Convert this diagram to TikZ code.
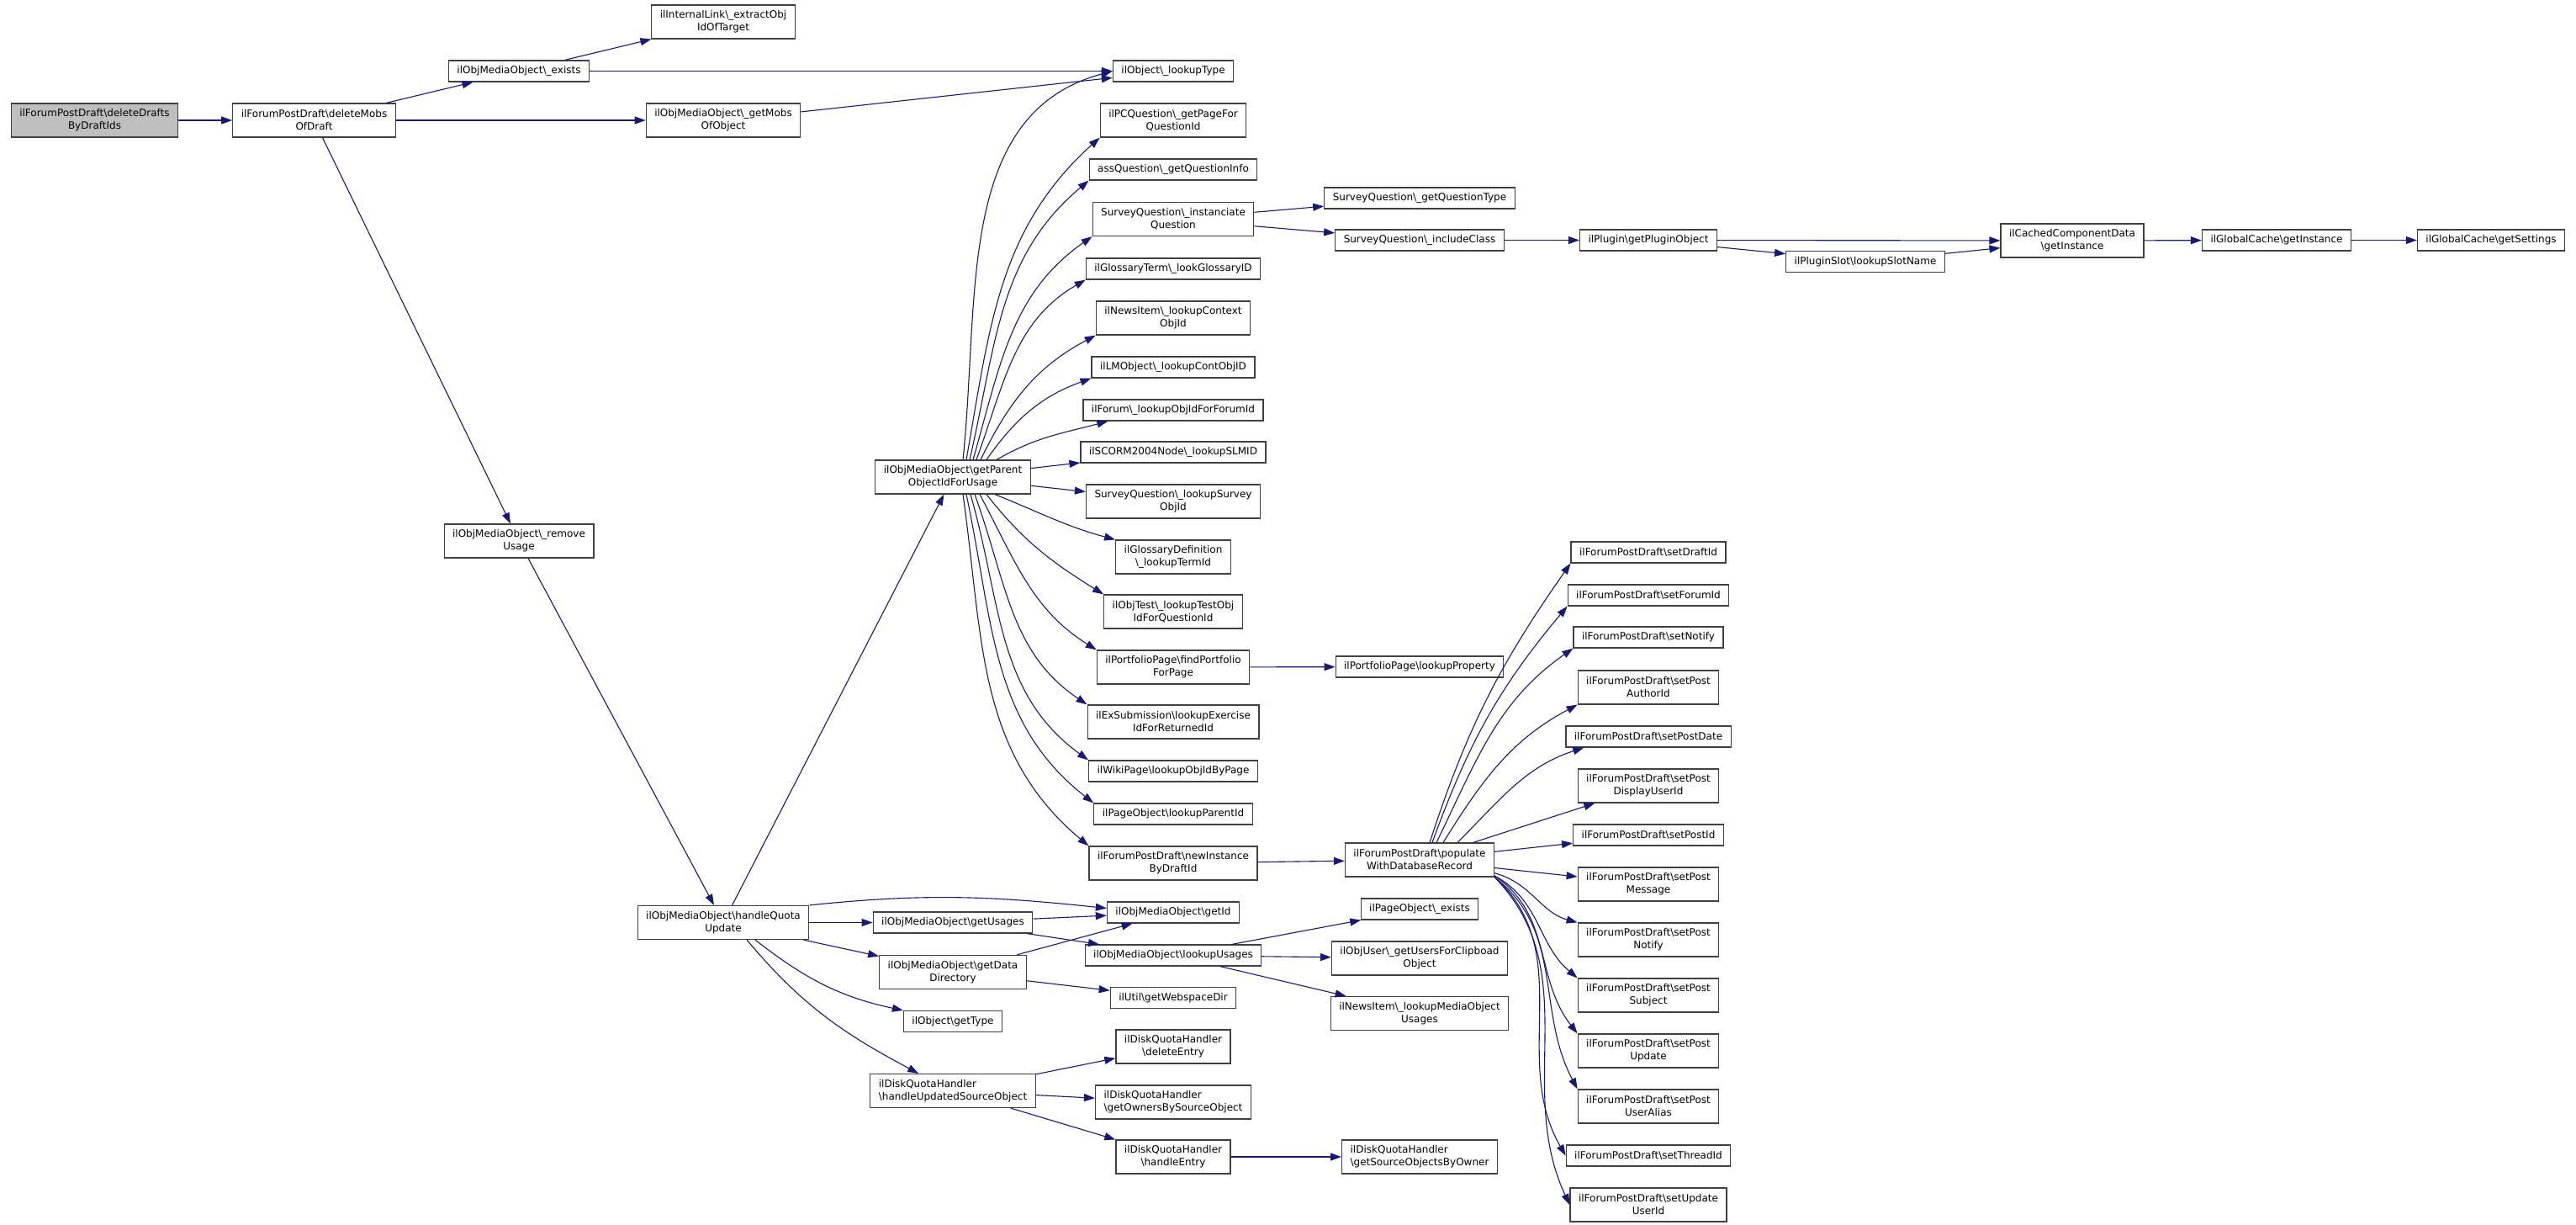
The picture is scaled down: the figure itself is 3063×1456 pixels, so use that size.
\documentclass[tikz,border=0pt]{standalone}
\usepackage{fontspec}
\setmainfont{DejaVu Sans}
\usetikzlibrary{arrows.meta,calc}
\newcommand{\BK}{\textbackslash}
\definecolor{edgec}{HTML}{191970}
\definecolor{boxc}{HTML}{404040}
\definecolor{rootc}{HTML}{BFBFBF}
\tikzset{
 fn/.style={draw=boxc, line width=1.2pt, fill=white, inner xsep=10pt, inner ysep=2pt,
   minimum height=25pt, font=\fontsize{12}{15}\selectfont, align=center},
 fn2/.style={fn, minimum height=40pt},
 fnl/.style={fn2, align=left},
 arr/.style={draw=edgec, line width=1.1pt, -{Triangle[length=13pt,width=9pt]}}
}
\begin{document}
\begin{tikzpicture}[x=1pt,y=1pt]
\useasboundingbox (0,0) rectangle (3063,-1456);
\fill[white] (0,0) rectangle (3063,-1456);
% rank 0-3
\node[fn2, fill=rootc] (root) at (112.5,-143) {ilForumPostDraft\BK deleteDrafts\\ByDraftIds};
\node[fn2] (dm) at (373.5,-143) {ilForumPostDraft\BK deleteMobs\\OfDraft};
\node[fn] (ex0) at (617,-84.5) {ilObjMediaObject\BK\_exists};
\node[fn2] (ru) at (617,-643) {ilObjMediaObject\BK\_remove\\Usage};
\node[fn2] (ilk) at (860,-26) {ilInternalLink\BK\_extractObj\\IdOfTarget};
\node[fn2] (gm) at (860,-143) {ilObjMediaObject\BK\_getMobs\\OfObject};
\node[fn2] (hq) at (860,-1096.5) {ilObjMediaObject\BK handleQuota\\Update};
% rank 4
\node[fn2] (gp) at (1133,-567) {ilObjMediaObject\BK getParent\\ObjectIdForUsage};
\node[fn] (gu) at (1133,-1096.5) {ilObjMediaObject\BK getUsages};
\node[fn2] (gdd) at (1133,-1155.5) {ilObjMediaObject\BK getData\\Directory};
\node[fn] (gty) at (1133,-1214) {ilObject\BK getType};
\node[fnl] (hu) at (1133,-1296.5) {ilDiskQuotaHandler\\\BK handleUpdatedSourceObject};
% rank 5
\node[fn] (lt) at (1395,-84.5) {ilObject\BK\_lookupType};
\node[fn2] (pcq) at (1395,-143) {ilPCQuestion\BK\_getPageFor\\QuestionId};
\node[fn] (aq) at (1395,-201.5) {assQuestion\BK\_getQuestionInfo};
\node[fn2] (inst) at (1395,-260.5) {SurveyQuestion\BK\_instanciate\\Question};
\node[fn] (gt) at (1395,-319.5) {ilGlossaryTerm\BK\_lookGlossaryID};
\node[fn2] (nc) at (1395,-378) {ilNewsItem\BK\_lookupContext\\ObjId};
\node[fn] (lm) at (1395,-436.5) {ilLMObject\BK\_lookupContObjID};
\node[fn] (fo) at (1395,-487.5) {ilForum\BK\_lookupObjIdForForumId};
\node[fn] (sc) at (1395,-537.5) {ilSCORM2004Node\BK\_lookupSLMID};
\node[fn2] (sv) at (1395,-596) {SurveyQuestion\BK\_lookupSurvey\\ObjId};
\node[fn2] (gd) at (1395,-662) {ilGlossaryDefinition\\\BK\_lookupTermId};
\node[fn2] (ot) at (1395,-727) {ilObjTest\BK\_lookupTestObj\\IdForQuestionId};
\node[fn2] (pf) at (1395,-793) {ilPortfolioPage\BK findPortfolio\\ForPage};
\node[fn2] (es) at (1395,-858) {ilExSubmission\BK lookupExercise\\IdForReturnedId};
\node[fn] (wk) at (1395,-916.5) {ilWikiPage\BK lookupObjIdByPage};
\node[fn] (pp) at (1395,-967.5) {ilPageObject\BK lookupParentId};
\node[fn2] (ni) at (1395,-1026) {ilForumPostDraft\BK newInstance\\ByDraftId};
\node[fn] (gi) at (1395,-1084.5) {ilObjMediaObject\BK getId};
\node[fn] (lu) at (1395,-1135.5) {ilObjMediaObject\BK lookupUsages};
\node[fn] (ws) at (1395,-1186) {ilUtil\BK getWebspaceDir};
\node[fn2] (de) at (1395,-1244) {ilDiskQuotaHandler\\\BK deleteEntry};
\node[fnl] (go) at (1395,-1310) {ilDiskQuotaHandler\\\BK getOwnersBySourceObject};
\node[fn2] (he) at (1395,-1375) {ilDiskQuotaHandler\\\BK handleEntry};
% rank 6
\node[fn] (gqt) at (1688,-235.5) {SurveyQuestion\BK\_getQuestionType};
\node[fn] (ic) at (1688,-285.5) {SurveyQuestion\BK\_includeClass};
\node[fn] (lp) at (1688,-792.5) {ilPortfolioPage\BK lookupProperty};
\node[fn2] (pop) at (1688,-1022) {ilForumPostDraft\BK populate\\WithDatabaseRecord};
\node[fn] (pe) at (1688,-1080.5) {ilPageObject\BK\_exists};
\node[fn2] (uc) at (1688,-1139) {ilObjUser\BK\_getUsersForClipboad\\Object};
\node[fn2] (nm) at (1688,-1204.5) {ilNewsItem\BK\_lookupMediaObject\\Usages};
\node[fnl] (gso) at (1688,-1375) {ilDiskQuotaHandler\\\BK getSourceObjectsByOwner};
% rank 7
\node[fn] (gpo) at (1960,-285.5) {ilPlugin\BK getPluginObject};
\node[fn] (s1) at (1960,-656.5) {ilForumPostDraft\BK setDraftId};
\node[fn] (s2) at (1960,-707.5) {ilForumPostDraft\BK setForumId};
\node[fn] (s3) at (1960,-757.5) {ilForumPostDraft\BK setNotify};
\node[fn2] (s4) at (1960,-817) {ilForumPostDraft\BK setPost\\AuthorId};
\node[fn] (s5) at (1960,-875.5) {ilForumPostDraft\BK setPostDate};
\node[fn2] (s6) at (1960,-934) {ilForumPostDraft\BK setPost\\DisplayUserId};
\node[fn] (s7) at (1960,-992.5) {ilForumPostDraft\BK setPostId};
\node[fn2] (s8) at (1960,-1051) {ilForumPostDraft\BK setPost\\Message};
\node[fn2] (s9) at (1960,-1117) {ilForumPostDraft\BK setPost\\Notify};
\node[fn2] (s10) at (1960,-1183) {ilForumPostDraft\BK setPost\\Subject};
\node[fn2] (s11) at (1960,-1249) {ilForumPostDraft\BK setPost\\Update};
\node[fn2] (s12) at (1960,-1315) {ilForumPostDraft\BK setPost\\UserAlias};
\node[fn] (s13) at (1960,-1373.5) {ilForumPostDraft\BK setThreadId};
\node[fn2] (s14) at (1960,-1432) {ilForumPostDraft\BK setUpdate\\UserId};
% rank 8-11
\node[fn] (lsn) at (2218,-311) {ilPluginSlot\BK lookupSlotName};
\node[fn2] (ccd) at (2464,-286) {ilCachedComponentData\\\BK getInstance};
\node[fn] (gci) at (2707,-285.5) {ilGlobalCache\BK getInstance};
\node[fn] (gs) at (2962,-285.5) {ilGlobalCache\BK getSettings};

% edges
\draw[arr] (root) -- (dm);
\draw[arr] (dm) -- (ex0);
\draw[arr] (dm) -- (gm);
\draw[arr] (dm) -- (ru);
\draw[arr] (ex0) -- (ilk);
\draw[arr] (ex0) -- (lt);
\draw[arr] (gm) -- (lt);
\draw[arr] (ru) -- (hq);
\draw[arr] (hq) -- (gp);
\draw[arr] (hq) -- (gu);
\draw[arr] (hq.north east) to[out=6,in=174] ($(gi.west)+(0,5)$);
\draw[arr] (hq) -- (gdd);
\draw[arr] ($(hq.south)+(38,0)$) to[out=-38,in=168] (gty.north west);
\draw[arr] ($(hq.south)+(28,0)$) to[out=-50,in=152] ($(hu.north west)+(58,0)$);
% getParent fan
\draw[arr] ($(gp.north)+(12,0)$) to[out=84,in=195] (lt.west);
\draw[arr] ($(gp.north)+(16,0)$) to[out=80,in=222] (pcq.south west);
\draw[arr] ($(gp.north)+(20,0)$) to[out=77,in=220] (aq.south west);
\draw[arr] ($(gp.north)+(24,0)$) to[out=74,in=215] (inst.south west);
\draw[arr] ($(gp.north)+(28,0)$) to[out=70,in=210] (gt.south west);
\draw[arr] ($(gp.north)+(33,0)$) to[out=64,in=208] (nc.south west);
\draw[arr] ($(gp.north)+(40,0)$) to[out=55,in=200] (lm.south west);
\draw[arr] ($(gp.north)+(52,0)$) to[out=30,in=195] ($(fo.south west)+(30,0)$);
\draw[arr] (gp) -- (sc);
\draw[arr] (gp) -- (sv);
\draw[arr] ($(gp.south)+(50,0)$) to[out=-22,in=165] (gd.north west);
\draw[arr] ($(gp.south)+(40,0)$) to[out=-52,in=148] (ot.north west);
\draw[arr] ($(gp.south)+(32,0)$) to[out=-62,in=148] (pf.north west);
\draw[arr] ($(gp.south)+(26,0)$) to[out=-70,in=146] (es.north west);
\draw[arr] ($(gp.south)+(21,0)$) to[out=-74,in=144] (wk.north west);
\draw[arr] ($(gp.south)+(16,0)$) to[out=-78,in=142] (pp.north west);
\draw[arr] ($(gp.south)+(12,0)$) to[out=-82,in=140] (ni.north west);
% rank 5 onwards
\draw[arr] (inst) -- (gqt);
\draw[arr] (inst) -- (ic);
\draw[arr] (ic) -- (gpo);
\draw[arr] (gpo) -- (ccd);
\draw[arr] (gpo) -- (lsn);
\draw[arr] (lsn) -- (ccd);
\draw[arr] (ccd) -- (gci);
\draw[arr] (gci) -- (gs);
\draw[arr] (pf) -- (lp);
\draw[arr] (ni) -- (pop);
\draw[arr] (gu) -- (gi);
\draw[arr] (gu) -- (lu);
\draw[arr] (gdd) -- (gi);
\draw[arr] (gdd) -- (ws);
\draw[arr] (lu) -- (pe);
\draw[arr] (lu) -- (uc);
\draw[arr] (lu) -- (nm);
\draw[arr] (hu) -- (de);
\draw[arr] (hu) -- (go);
\draw[arr] (hu) -- (he);
\draw[arr] (he) -- (gso);
% populate fan
\draw[arr] ($(pop.north)+(12,0)$) to[out=72,in=235] (s1.south west);
\draw[arr] ($(pop.north)+(15,0)$) to[out=70,in=230] (s2.south west);
\draw[arr] ($(pop.north)+(20,0)$) to[out=64,in=215] (s3.south west);
\draw[arr] ($(pop.north)+(28,0)$) to[out=58,in=208] (s4.south west);
\draw[arr] ($(pop.north)+(45,0)$) to[out=45,in=198] ($(s5.south west)+(22,0)$);
\draw[arr] (pop) -- (s6);
\draw[arr] (pop) -- (s7);
\draw[arr] (pop) -- (s8);
\draw[arr] (pop.-10) to[out=-15,in=165] (s9.north west);
\draw[arr] (pop.-12) to[out=-28,in=140] (s10.north west);
\draw[arr] (pop.-12) to[out=-34,in=128] (s11.north west);
\draw[arr] (pop.-13) to[out=-38,in=118] (s12.north west);
\draw[arr] (pop.-13) to[out=-42,in=120] (s13.west);
\draw[arr] (pop.-13) to[out=-46,in=115] (s14.west);
\end{tikzpicture}
\end{document}
